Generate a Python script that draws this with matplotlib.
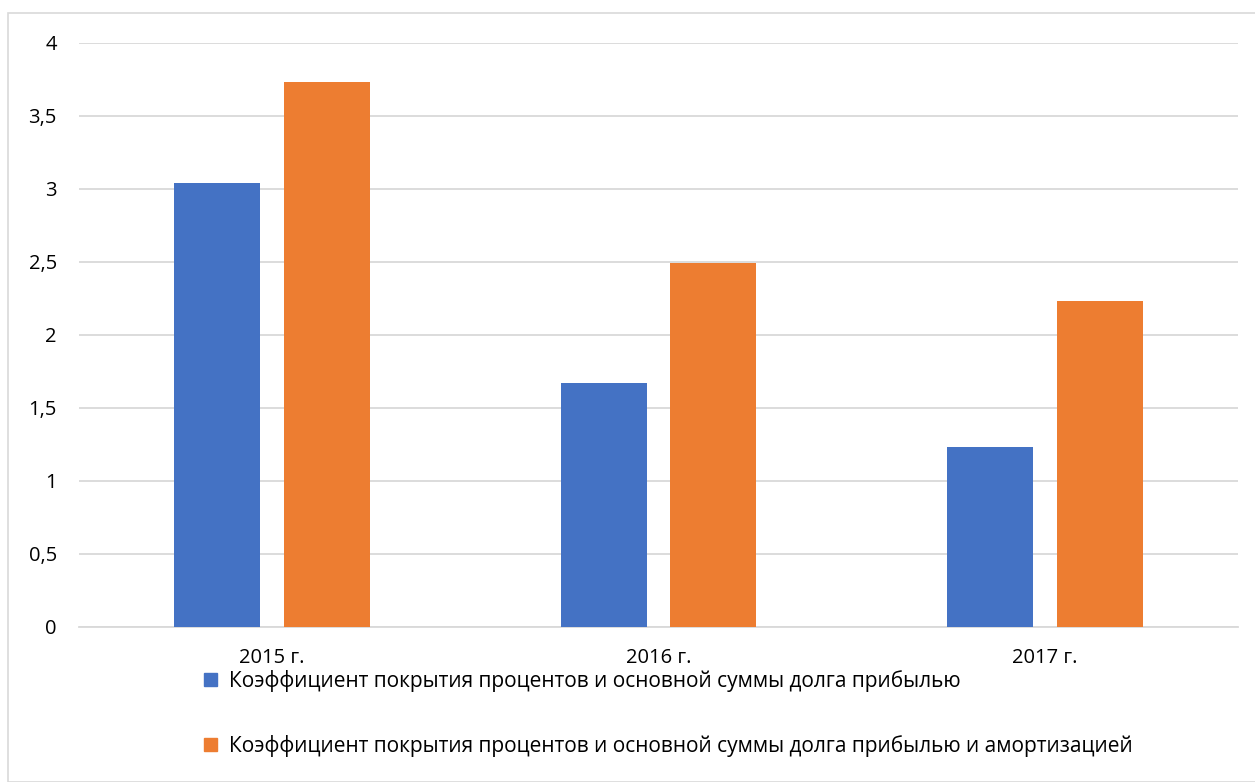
import matplotlib.pyplot as plt
import matplotlib.patches as mpatches
import numpy as np

years = ["2015 г.", "2016 г.", "2017 г."]
cover_profit = [3.04, 1.67, 1.23]
cover_profit_amort = [3.73, 2.49, 2.23]
labels = [
    "Коэффициент покрытия процентов и основной суммы долга прибылью",
    "Коэффициент покрытия процентов и основной суммы долга прибылью и амортизацией",
]
yticks = [0, 0.5, 1, 1.5, 2, 2.5, 3, 3.5, 4]
ytick_labels = ["0", "0,5", "1", "1,5", "2", "2,5", "3", "3,5", "4"]

blue = "#4472C4"
orange = "#ED7D31"

plt.rcParams['font.family'] = ['Open Sans', 'DejaVu Sans']
fs = 14.5

fig = plt.figure(figsize=(12.55, 7.82), dpi=100)
ax = fig.add_axes([79 / 1255, 1 - 627 / 782, (1238 - 79) / 1255, (627 - 43) / 782])

x = np.arange(len(years))
w = 0.222
ax.bar(x - 0.142, cover_profit, w, color=blue, label=labels[0], zorder=3)
ax.bar(x + 0.142, cover_profit_amort, w, color=orange, label=labels[1], zorder=3)

ax.set_xlim(-0.5, 2.5)
ax.set_ylim(0, 4)
ax.set_yticks(yticks)
ax.set_yticklabels(ytick_labels)
ax.set_xticks(x)
ax.set_xticklabels(years)
ax.tick_params(axis='both', length=0, labelsize=fs, colors="#000000")
ax.tick_params(axis='y', pad=16)
ax.tick_params(axis='x', pad=15)
ax.grid(axis='y', color="#d9d9d9", linewidth=1.3, zorder=0)
for s in ["top", "right", "left"]:
    ax.spines[s].set_visible(False)
ax.spines["bottom"].set_color("#d9d9d9")
ax.spines["bottom"].set_linewidth(1.3)

handles = [mpatches.Patch(color=blue), mpatches.Patch(color=orange)]
fig.legend(handles, labels, loc="upper left", bbox_to_anchor=(204 / 1255, 1 - 670 / 782),
           frameon=False, fontsize=15, handlelength=0.62, handleheight=0.62,
           handletextpad=0.58, labelspacing=2.05, borderpad=0, borderaxespad=0)

# chart border
fig.patches.append(mpatches.Rectangle((8 / 1255, 0 / 782), 1.0, 1 - 13 / 782,
                                      transform=fig.transFigure, fill=False,
                                      edgecolor="#d9d9d9", linewidth=1.2))

fig.savefig("out.png", dpi=100)
